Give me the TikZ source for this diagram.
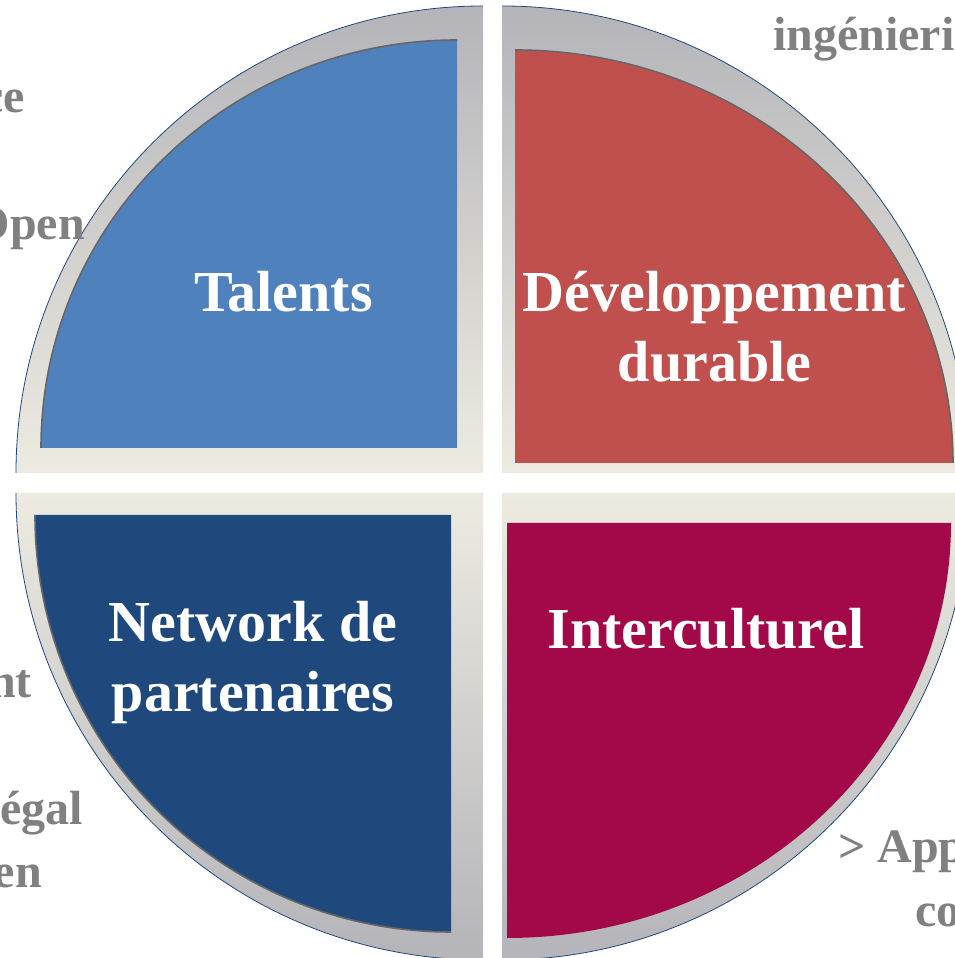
\documentclass[tikz,border=0pt]{standalone}
\usepackage{fontspec}
\setmainfont{Liberation Serif}
\usepackage{xcolor}
\definecolor{talentblue}{HTML}{4F81BD}
\definecolor{durablered}{HTML}{C0504D}
\definecolor{networknavy}{HTML}{1F497D}
\definecolor{interpurple}{HTML}{A30848}
\definecolor{ringgray}{HTML}{B4B4B9}
\definecolor{ringbeige}{HTML}{EDEBE1}
\definecolor{asidegray}{HTML}{808080}

\begin{document}
\begin{tikzpicture}[x=1pt,y=1pt,
    ringtop/.style={top color=ringgray,bottom color=ringbeige},
    ringbot/.style={top color=ringbeige,bottom color=ringgray},
    rim/.style={draw=networknavy,line width=0.8pt},
    arcline/.style={draw=black!60,line width=1.6pt},
    quadtext/.style={text=white,font=\fontsize{58}{70}\selectfont\bfseries,align=center,inner sep=0pt},
    aside/.style={text=asidegray,font=\fontsize{48}{56}\selectfont\bfseries,inner sep=0pt}]
    \useasboundingbox (0,0) rectangle (955,958);
    \clip (0,0) rectangle (955,958);

    \shade[ringtop] (483,485) -- (16,485) arc[start angle=180,end angle=90,radius=467pt] -- cycle;
    \shade[ringtop] (502,485) -- (969,485) arc[start angle=0,end angle=90,radius=467pt] -- cycle;
    \shade[ringbot] (502,465) -- (502,-2) arc[start angle=270,end angle=360,radius=467pt] -- cycle;
    \shade[ringbot] (483,465) -- (16,465) arc[start angle=180,end angle=270,radius=467pt] -- cycle;
    \draw[rim] (16,485) arc[start angle=180,end angle=90,radius=467pt];
    \draw[rim] (969,485) arc[start angle=0,end angle=90,radius=467pt];
    \draw[rim] (502,-2) arc[start angle=270,end angle=360,radius=467pt];
    \draw[rim] (16,465) arc[start angle=180,end angle=270,radius=467pt];

    \fill[talentblue] (457,510) -- (41,510) arc[start angle=180,end angle=90,x radius=416pt,y radius=408pt] -- cycle;
    \draw[arcline] (41,510) arc[start angle=180,end angle=90,x radius=416pt,y radius=408pt];
    \fill[durablered] (515,495) -- (515,908) arc[start angle=90,end angle=0,x radius=438pt,y radius=413pt] -- cycle;
    \draw[arcline] (515,908) arc[start angle=90,end angle=0,x radius=438pt,y radius=413pt];
    \fill[networknavy] (451,443) -- (35,443) arc[start angle=180,end angle=270,x radius=416pt,y radius=417pt] -- cycle;
    \draw[arcline] (35,443) arc[start angle=180,end angle=270,x radius=416pt,y radius=417pt];
    \fill[interpurple] (507,435) -- (951,435) arc[start angle=0,end angle=-90,x radius=444pt,y radius=415pt] -- cycle;

    \node[quadtext,anchor=base] (talents) at (283.5,646) {Talents};
    \node[quadtext,anchor=base] (durable) at (714.5,576) {Développement\\durable};
    \node[quadtext,anchor=base] (network) at (253,246) {Network de\\partenaires};
    \node[quadtext,anchor=base] (intercult) at (706,309) {Interculturel};

    \node[aside,anchor=base west] (ingen) at (773,907) {ingénieri};
    \node[aside,anchor=base east] (ce) at (25,845) {ce};
    \node[aside,anchor=base east] (open) at (85,718) {Open};
    \node[aside,anchor=base east] (nt) at (32,260) {nt};
    \node[aside,anchor=base east] (egal) at (83,133) {égal};
    \node[aside,anchor=base east] (en) at (42,70) {en};
    \node[aside,anchor=base west] (app) at (838,95) {> App};
    \node[aside,anchor=base west] (co) at (915,31) {co};
\end{tikzpicture}
\end{document}
